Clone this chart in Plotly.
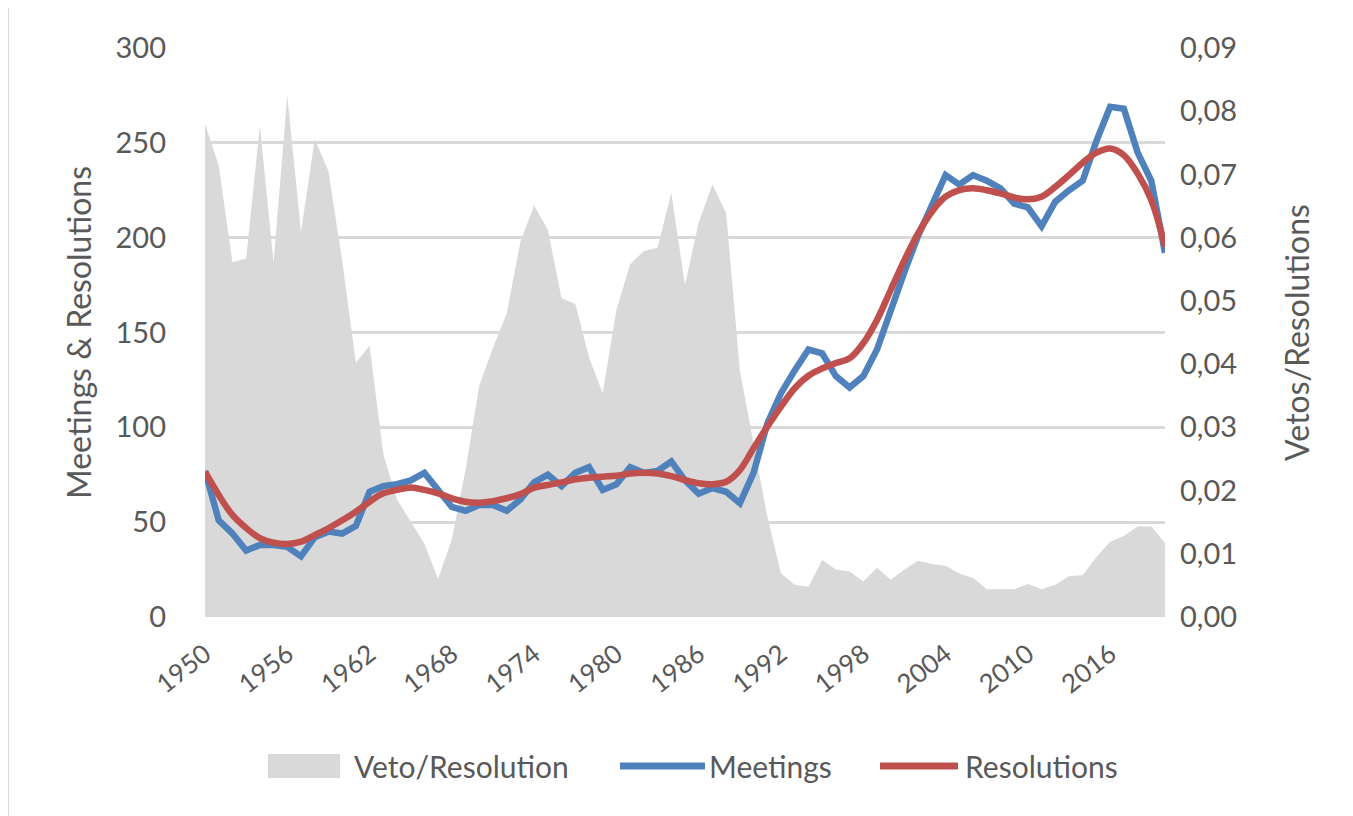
import plotly.graph_objects as go

# years on the category axis
years = list(range(1950, 2021))

# meetings per year (left axis)
meetings = [77, 51, 44, 35, 38, 38, 37, 32, 42, 45, 44, 48, 66, 69, 70, 72,
            76, 67, 58, 56, 59, 59, 56, 62, 71, 75, 69, 76, 79, 67, 70, 79,
            76, 77, 82, 72, 65, 68, 66, 60, 76, 102, 118, 130, 141, 139, 127, 121,
            127, 141, 162, 182, 201, 218, 233, 228, 233, 230, 226, 218, 216, 206, 219, 225,
            230, 251, 269, 268, 245, 230, 192]

# resolutions per year, smoothed line (left axis)
resolutions = [76.6, 64.3, 53.8, 46.9, 41.6, 39.2, 38.5, 39.7, 43.2, 46.8, 51, 55.5, 60.8, 65.2, 67, 68.3,
               67, 65.2, 62.6, 60.8, 60.3, 61.1, 62.6, 64.8, 68.2, 69.6, 71, 72.6, 73.4, 74, 74.5, 75.7,
               76, 75.7, 74.3, 72.2, 70.5, 70, 71.3, 77.5, 89, 100.3, 110.9, 120.6, 127.2, 131, 133.9, 136.4,
               144.4, 156.6, 172.4, 188.2, 202.3, 213.7, 221.6, 225.1, 226, 225, 223.3, 221.2, 220.2, 221.6, 226.8, 233,
               239.5, 244.8, 247, 243.5, 233.9, 219.8, 195.2]

# vetoes per resolution (right axis)
veto_ratio = [0.0780, 0.0714, 0.0561, 0.0567, 0.0777, 0.0561, 0.0825, 0.0609, 0.0756, 0.0705, 0.0564, 0.0402,
              0.0429, 0.0258, 0.0186, 0.0150, 0.0116, 0.0060, 0.0123, 0.0233, 0.0366, 0.0426, 0.0480, 0.0594,
              0.0651, 0.0612, 0.0504, 0.0495, 0.0411, 0.0354, 0.0486, 0.0558, 0.0579, 0.0584, 0.0671, 0.0525,
              0.0624, 0.0684, 0.0639, 0.0390, 0.0276, 0.0159, 0.0069, 0.0051, 0.0048, 0.0090, 0.0075, 0.0072,
              0.0056, 0.0078, 0.0059, 0.0075, 0.0089, 0.0084, 0.0081, 0.0069, 0.0062, 0.0044, 0.0044, 0.0044,
              0.0052, 0.0044, 0.0051, 0.0065, 0.0066, 0.0095, 0.0119, 0.0128, 0.0143, 0.0143, 0.0117]

tick_years = list(range(1950, 2017, 6))

names = ["Veto/Resolution", "Meetings", "Resolutions"]
colors = ["#D9D9D9", "#4F81BD", "#C0504D"]

grey_txt = "#595959"
font_family = "Lato, Open Sans, sans-serif"

fig = go.Figure()

# area goes on the primary axis (drawn below the overlaid line axis)
fig.add_trace(go.Scatter(x=years, y=veto_ratio, name=names[0], mode="lines",
                         line=dict(width=0, color=colors[0]), fill="tozeroy",
                         fillcolor=colors[0], yaxis="y", showlegend=False))
fig.add_trace(go.Scatter(x=years, y=meetings, name=names[1], mode="lines",
                         line=dict(color=colors[1], width=6.5), yaxis="y2", showlegend=False))
fig.add_trace(go.Scatter(x=years, y=resolutions, name=names[2], mode="lines",
                         line=dict(color=colors[2], width=6.5, shape="spline", smoothing=1),
                         yaxis="y2", showlegend=False))

fig.update_layout(
    width=1353, height=816,
    paper_bgcolor="white", plot_bgcolor="white",
    margin=dict(l=197, r=196, t=40, b=207),
    separators=", ",
    font=dict(family=font_family, color=grey_txt, size=28),
    showlegend=False,
    xaxis=dict(range=[1950, 2020], tickvals=tick_years, tickangle=-38,
               showgrid=False, zeroline=False, showline=False, ticks="",
               tickfont=dict(size=26, color=grey_txt), ticklabelstandoff=16),
    yaxis=dict(side="right", range=[0, 0.09], dtick=0.01, tickformat=".2f",
               showgrid=False, zeroline=False, showline=False,
               title=dict(text="Vetos/Resolutions", font=dict(size=32, color=grey_txt), standoff=50),
               tickfont=dict(size=29, color=grey_txt), ticklabelstandoff=14),
    yaxis2=dict(side="left", overlaying="y", range=[0, 300], dtick=50,
                showgrid=True, gridcolor="#D9D9D9", gridwidth=3,
                zeroline=False, showline=False,
                title=dict(text="Meetings & Resolutions", font=dict(size=32, color=grey_txt), standoff=14),
                tickfont=dict(size=29, color=grey_txt), ticklabelstandoff=38),
)

# legend drawn by hand so the swatches get the wide spreadsheet look
ly = -0.2619
fig.add_shape(type="rect", xref="paper", yref="paper", x0=0.0656, x1=0.1406,
              y0=-0.283, y1=-0.2408, line=dict(width=0), fillcolor=colors[0])
fig.add_shape(type="line", xref="paper", yref="paper", x0=0.4323, x1=0.5208,
              y0=ly, y1=ly, line=dict(color=colors[1], width=7))
fig.add_shape(type="line", xref="paper", yref="paper", x0=0.7031, x1=0.7844,
              y0=ly, y1=ly, line=dict(color=colors[2], width=7))
for xpos, label in zip([0.1531, 0.5229, 0.7896], names):
    fig.add_annotation(x=xpos, y=ly, xref="paper", yref="paper", text=label,
                       showarrow=False, xanchor="left", yanchor="middle",
                       font=dict(size=30, color=grey_txt))

# chart frame edges visible in the screenshot (top and left)
fig.add_shape(type="line", xref="paper", yref="paper",
              x0=-0.2052, x1=1.2, y0=1.0756, y1=1.0756,
              line=dict(color="#D9D9D9", width=2))
fig.add_shape(type="line", xref="paper", yref="paper",
              x0=-0.2052, x1=-0.2052, y0=-0.36, y1=1.0756,
              line=dict(color="#D9D9D9", width=2))

fig.write_html("out.html")
